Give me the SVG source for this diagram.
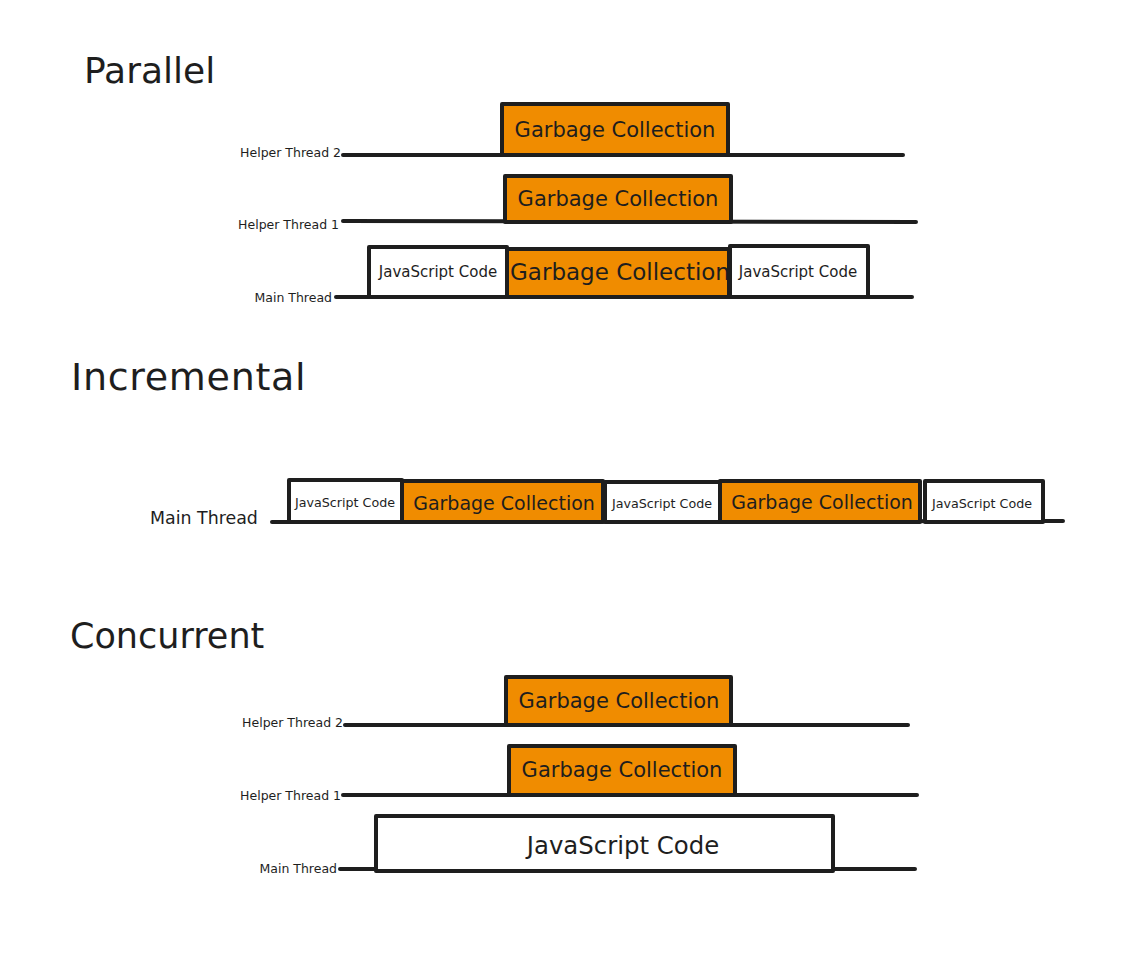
<svg xmlns="http://www.w3.org/2000/svg" width="1122" height="972" viewBox="0 0 1122 972">
<style>
  text { font-family: "DejaVu Sans", "Liberation Sans", sans-serif; fill: #1e1e1e; }
  .title { font-size: 36px; }
  .lbl { font-size: 12.5px; }
  .gc rect { fill: #f08c00; stroke: #1e1e1e; stroke-width: 4; stroke-linejoin: round; }
  .js rect { fill: #ffffff; stroke: #1e1e1e; stroke-width: 4; stroke-linejoin: round; }
  .box text { text-anchor: middle; dominant-baseline: central; }
  .gct { font-size: 21px; }
  .jst { font-size: 15px; }
  .ijs { font-size: 12.7px; }
  .line { stroke: #1e1e1e; stroke-width: 4; stroke-linecap: round; fill: none; }
</style>
<rect width="1122" height="972" fill="#ffffff"/>

<g id="titles">
  <text class="title" x="84" y="83">Parallel</text>
  <text class="title" x="71" y="390" style="font-size:38px;letter-spacing:0.7px">Incremental</text>
  <text class="title" x="70" y="648" style="font-size:35px">Concurrent</text>
</g>

<g id="labels">
  <text class="lbl" x="341" y="157" text-anchor="end">Helper Thread 2</text>
  <text class="lbl" x="339" y="229" text-anchor="end">Helper Thread 1</text>
  <text class="lbl" x="332" y="302" text-anchor="end">Main Thread</text>
  <text x="150" y="524" style="font-size:17.4px">Main Thread</text>
  <text class="lbl" x="343" y="727" text-anchor="end">Helper Thread 2</text>
  <text class="lbl" x="341" y="800" text-anchor="end">Helper Thread 1</text>
  <text class="lbl" x="337" y="873" text-anchor="end">Main Thread</text>
</g>

<g id="connectors">
  <path class="line" d="M343 155 L903 155"/>
  <path class="line" d="M343 221 L916 222"/>
  <path class="line" d="M336 297 L912 297"/>
  <path class="line" d="M272 522 L1063 521"/>
  <path class="line" d="M345 725 L908 725"/>
  <path class="line" d="M343 795 L917 795"/>
  <path class="line" d="M340 869 L915 869"/>
</g>

<!-- Parallel -->
<g id="par-h2-gc" class="box gc">
  <rect x="502" y="104" width="226" height="51"/>
  <text class="gct" x="615" y="130">Garbage Collection</text>
</g>
<g id="par-h1-gc" class="box gc">
  <rect x="505" y="176" width="226" height="46"/>
  <text class="gct" x="618" y="199">Garbage Collection</text>
</g>
<g id="par-main-js1" class="box js">
  <rect x="369" y="247" width="138" height="50"/>
  <text class="jst" x="438" y="272">JavaScript Code</text>
</g>
<g id="par-main-gc" class="box gc">
  <rect x="507" y="249" width="222" height="48"/>
  <text class="gct" x="620" y="272" style="font-size:23px">Garbage Collection</text>
</g>
<g id="par-main-js2" class="box js">
  <rect x="730" y="246" width="138" height="51"/>
  <text class="jst" x="798" y="272">JavaScript Code</text>
</g>

<!-- Incremental -->
<g id="inc-js1" class="box js">
  <rect x="289" y="480" width="113" height="42"/>
  <text class="ijs" x="345" y="502">JavaScript Code</text>
</g>
<g id="inc-gc1" class="box gc">
  <rect x="402" y="481" width="201" height="41"/>
  <text class="gct" x="504" y="503" style="font-size:19px">Garbage Collection</text>
</g>
<g id="inc-js2" class="box js">
  <rect x="605" y="482" width="115" height="40"/>
  <text class="ijs" x="662" y="503">JavaScript Code</text>
</g>
<g id="inc-gc2" class="box gc">
  <rect x="720" y="481" width="200" height="41"/>
  <text class="gct" x="822" y="502" style="font-size:19px">Garbage Collection</text>
</g>
<g id="inc-js3" class="box js">
  <rect x="925" y="481" width="118" height="41"/>
  <text class="ijs" x="982" y="503">JavaScript Code</text>
</g>

<!-- Concurrent -->
<g id="con-h2-gc" class="box gc">
  <rect x="506" y="677" width="225" height="48"/>
  <text class="gct" x="619" y="701">Garbage Collection</text>
</g>
<g id="con-h1-gc" class="box gc">
  <rect x="509" y="746" width="226" height="49"/>
  <text class="gct" x="622" y="770">Garbage Collection</text>
</g>
<g id="con-main-js" class="box js">
  <rect x="376" y="816" width="457" height="55"/>
  <text x="623" y="845" style="font-size:24.4px">JavaScript Code</text>
</g>
</svg>
